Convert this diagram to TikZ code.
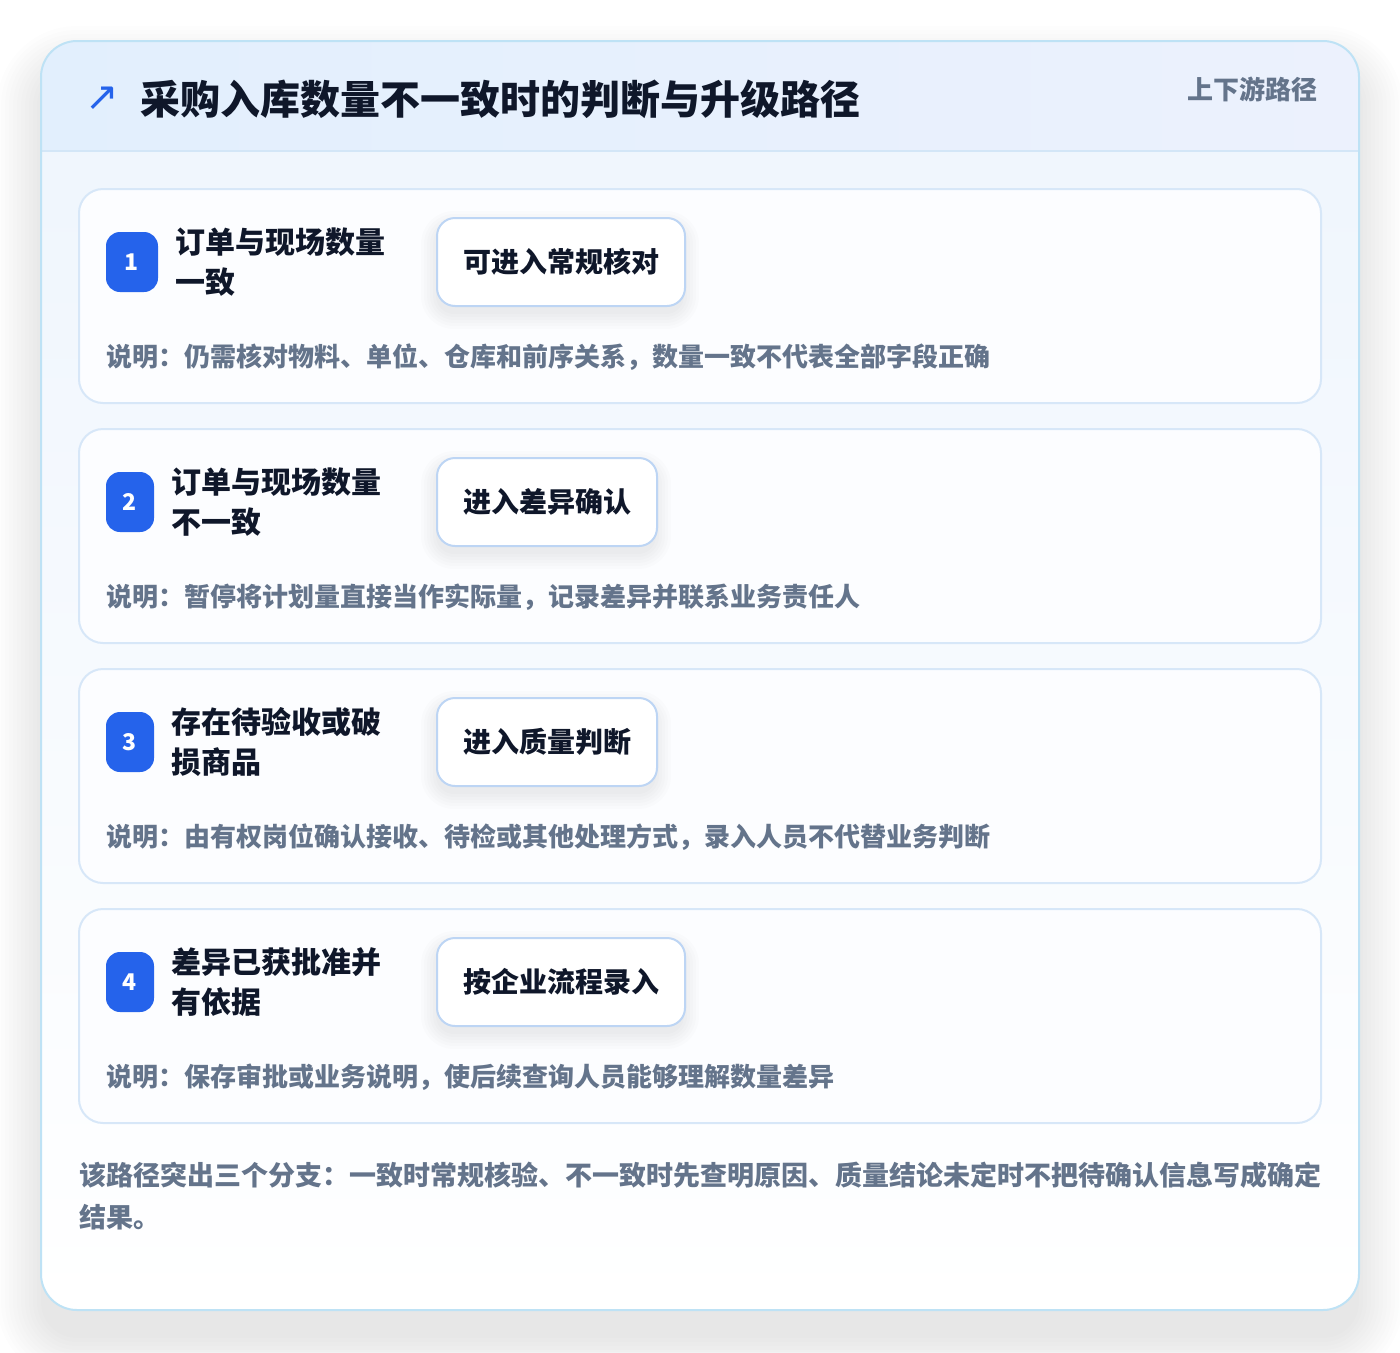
\documentclass[tikz,border=0pt]{standalone}
\usepackage{fontspec}
\setmainfont{Noto Sans CJK SC}
\newfontfamily\symfont{DejaVu Sans}
\definecolor{outerborder}{HTML}{BEE2F5}
\definecolor{headL}{HTML}{E2EFFD}
\definecolor{headR}{HTML}{ECF1FD}
\definecolor{headline}{HTML}{D3E6F7}
\definecolor{bodytop}{HTML}{EEF5FD}
\definecolor{cardborder}{HTML}{D7E7F8}
\definecolor{cardfill}{HTML}{FCFDFF}
\definecolor{actborder}{HTML}{BDD5F4}
\definecolor{badgeblue}{HTML}{2563EB}
\definecolor{darktext}{HTML}{0F172A}
\definecolor{graytext}{HTML}{64748B}
\definecolor{shadowcol}{HTML}{1E293B}
\tikzset{
  cardbox/.style={draw=cardborder, line width=2pt, fill=cardfill, rounded corners=24pt},
  badgebox/.style={fill=badgeblue, rounded corners=14pt, minimum height=60pt, text=white,
    font=\bfseries\fontsize{23}{23}\selectfont, inner sep=0pt},
  labeltext/.style={anchor=west, align=left, inner sep=0pt, text=darktext,
    font=\bfseries\fontsize{30}{40}\selectfont},
  actbox/.style={anchor=west, draw=actborder, line width=2pt, fill=white, rounded corners=18pt,
    minimum height=88pt, inner xsep=26pt, text=darktext, font=\bfseries\fontsize{28}{28}\selectfont},
  shadowlayer/.style={fill=shadowcol, fill opacity=#1},
  desctext/.style={anchor=west, inner sep=0pt, text=graytext, font=\bfseries\fontsize{26}{26}\selectfont},
}
\begin{document}
\begin{tikzpicture}[x=1pt,y=-1pt]
\useasboundingbox (0,0) rectangle (1400,1352);
\fill[white] (0,0) rectangle (1400,1352);
% outer card shadow (layered)
\foreach \e in {0,4,...,44} {
  \fill[shadowlayer=0.009, rounded corners=36+\e] (41-\e,70-\e) rectangle (1359+\e,1338+\e);
}
% outer card
\path[rounded corners=36pt, top color=bodytop, bottom color=white] (41,41) rectangle (1359,1310);
\begin{scope}
  \clip[rounded corners=36pt] (41,41) rectangle (1359,1310);
  \path[left color=headL, right color=headR] (41,41) rectangle (1359,151);
  \draw[headline, line width=2pt] (41,151) -- (1359,151);
\end{scope}
\draw[outerborder, line width=2pt, rounded corners=36pt] (41,41) rectangle (1359,1310);
% header
\node[inner sep=0pt, text=badgeblue, font=\symfont\fontsize{40}{40}\selectfont] (icon) at (102,99) {↗};
\node[anchor=west, inner sep=0pt, text=darktext, font=\bfseries\fontsize{40}{40}\selectfont] (title) at (140,99) {采购入库数量不一致时的判断与升级路径};
\node[anchor=east, inner sep=0pt, text=graytext, font=\bfseries\fontsize{26}{26}\selectfont] (tag) at (1318,89) {上下游路径};
% cards
\foreach \i/\bw/\lx/\aw/\la/\lb/\act/\dsc in {
  1/52/175/248/订单与现场数量/一致/可进入常规核对/说明：仍需核对物料、单位、仓库和前序关系，数量一致不代表全部字段正确,
  2/48/171/220/订单与现场数量/不一致/进入差异确认/说明：暂停将计划量直接当作实际量，记录差异并联系业务责任人,
  3/48/171/220/存在待验收或破/损商品/进入质量判断/说明：由有权岗位确认接收、待检或其他处理方式，录入人员不代替业务判断,
  4/48/171/248/差异已获批准并/有依据/按企业流程录入/说明：保存审批或业务说明，使后续查询人员能够理解数量差异}
{
  \pgfmathsetmacro{\T}{189+240*(\i-1)}
  \draw[cardbox] (79,\T) rectangle (1321,\T+214);
  \node[badgebox, minimum width=\bw pt] (badge\i) at (106+\bw/2,\T+73) {\i};
  \node[labeltext] (label\i) at (\lx,\T+73) {\la\\\lb};
  \foreach \e in {0,3,...,15} {
    \fill[shadowlayer=0.010, rounded corners=18+\e] (436-\e,\T+37-\e) rectangle (436+\aw+\e,\T+125+\e);
  }
  \node[actbox, minimum width=\aw pt] (act\i) at (436,\T+73) {\act};
  \node[desctext] (desc\i) at (106,\T+168) {\dsc};
}
% summary
\node[anchor=west, align=left, inner sep=0pt, text=graytext, font=\bfseries\fontsize{27}{42}\selectfont] (summary) at (79,1196)
  {该路径突出三个分支：一致时常规核验、不一致时先查明原因、质量结论未定时不把待确认信息写成确定\\结果。};
\end{tikzpicture}
\end{document}
